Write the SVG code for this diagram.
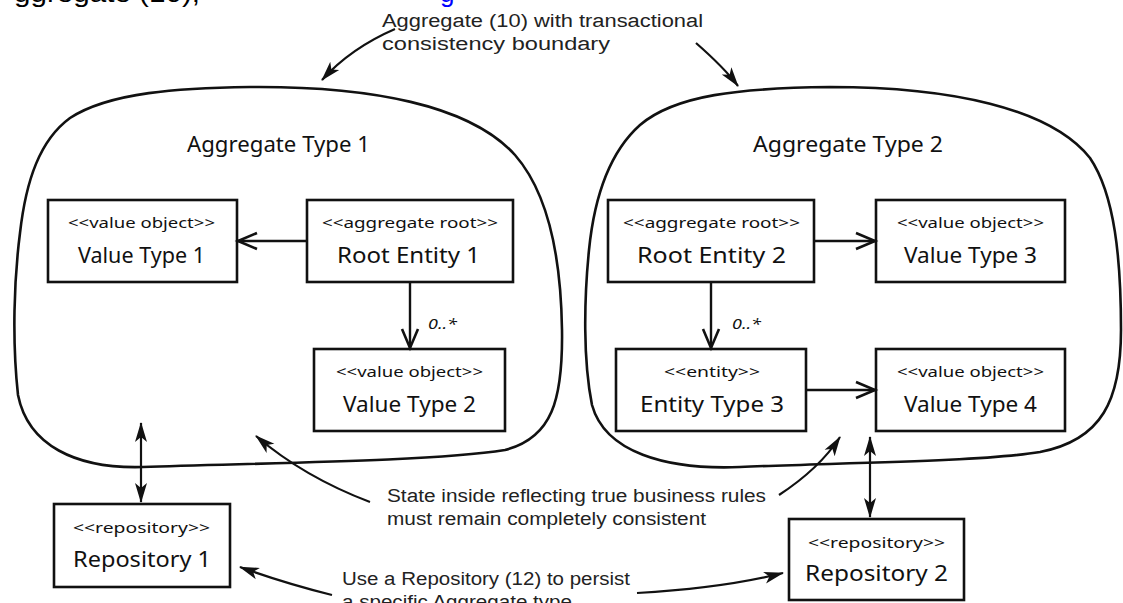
<svg xmlns="http://www.w3.org/2000/svg" width="1123" height="603" viewBox="0 0 1123 603">
<style>
.blob{fill:none;stroke:#111;stroke-width:2.6}
.box{fill:#fff;stroke:#111;stroke-width:2.6}
.hand{font-family:"Noto Sans","DejaVu Sans",sans-serif;fill:#111}
.st{font-size:14px}
.nm{font-size:21px}
.ttl{font-size:21px}
.ann{font-family:"Liberation Sans",Arial,sans-serif;font-size:18px;fill:#222}
.conn{fill:none;stroke:#111;stroke-width:2.4}
.pt{fill:none;stroke:#111;stroke-width:2.2}
</style>
<defs>
<marker id="open" markerUnits="userSpaceOnUse" markerWidth="26" markerHeight="22" refX="22" refY="11" orient="auto">
<path d="M3,3 L22,11 L3,19" fill="none" stroke="#111" stroke-width="2.6"/>
</marker>
<marker id="solid" markerUnits="userSpaceOnUse" markerWidth="22" markerHeight="14" refX="19" refY="7" orient="auto-start-reverse">
<path d="M0,1 L20,7 L0,13 L5,7 Z" fill="#111"/>
</marker>
</defs>
<rect width="1123" height="603" fill="#fff"/>

<text x="14" y="2" font-family="Liberation Sans,Arial,sans-serif" font-size="26" fill="#000" textLength="186" lengthAdjust="spacingAndGlyphs">ggregate (10),</text>
<text x="440" y="2" font-family="Liberation Sans,Arial,sans-serif" font-size="26" fill="#00f">g</text>

<g id="aggregate1">
<path class="blob" d="M250,87 C370,86 470,105 515,155 C550,195 561,260 562,330 C563,400 552,438 505,450 C430,462 250,463 143,467 C75,469 28,445 18,395 C12,340 14,280 20,233 C26,180 40,140 70,118 C110,92 180,88 250,87 Z"/>
<text class="hand ttl" x="187" y="152" textLength="183" lengthAdjust="spacingAndGlyphs">Aggregate Type 1</text>
</g>
<g id="aggregate2">
<path class="blob" d="M830,87 C950,87 1050,108 1090,158 C1115,195 1121,260 1121,330 C1121,400 1102,440 1040,452 C980,462 830,463 740,467 C665,470 605,452 592,405 C583,360 584,300 589,250 C595,190 612,150 640,125 C675,95 740,88 830,87 Z"/>
<text class="hand ttl" x="753" y="152" textLength="190" lengthAdjust="spacingAndGlyphs">Aggregate Type 2</text>
</g>

<g id="vt1"><rect class="box" x="48" y="200" width="189" height="82"/>
<text class="hand st" x="68" y="228" textLength="147" lengthAdjust="spacingAndGlyphs">&lt;&lt;value object&gt;&gt;</text>
<text class="hand nm" x="78" y="263" textLength="127" lengthAdjust="spacingAndGlyphs">Value Type 1</text></g>

<g id="re1"><rect class="box" x="307" y="200" width="206" height="82"/>
<text class="hand st" x="322" y="228" textLength="176" lengthAdjust="spacingAndGlyphs">&lt;&lt;aggregate root&gt;&gt;</text>
<text class="hand nm" x="337" y="263" textLength="143" lengthAdjust="spacingAndGlyphs">Root Entity 1</text></g>

<g id="vt2"><rect class="box" x="314" y="349" width="191" height="82"/>
<text class="hand st" x="336" y="377" textLength="147" lengthAdjust="spacingAndGlyphs">&lt;&lt;value object&gt;&gt;</text>
<text class="hand nm" x="343" y="412" textLength="133" lengthAdjust="spacingAndGlyphs">Value Type 2</text></g>

<g id="re2"><rect class="box" x="608" y="200" width="206" height="82"/>
<text class="hand st" x="623" y="228" textLength="177" lengthAdjust="spacingAndGlyphs">&lt;&lt;aggregate root&gt;&gt;</text>
<text class="hand nm" x="637" y="263" textLength="149" lengthAdjust="spacingAndGlyphs">Root Entity 2</text></g>

<g id="vt3"><rect class="box" x="876" y="200" width="189" height="82"/>
<text class="hand st" x="897" y="228" textLength="147" lengthAdjust="spacingAndGlyphs">&lt;&lt;value object&gt;&gt;</text>
<text class="hand nm" x="904" y="263" textLength="133" lengthAdjust="spacingAndGlyphs">Value Type 3</text></g>

<g id="et3"><rect class="box" x="616" y="349" width="190" height="82"/>
<text class="hand st" x="664" y="377" textLength="96" lengthAdjust="spacingAndGlyphs">&lt;&lt;entity&gt;&gt;</text>
<text class="hand nm" x="640" y="412" textLength="144" lengthAdjust="spacingAndGlyphs">Entity Type 3</text></g>

<g id="vt4"><rect class="box" x="876" y="349" width="189" height="82"/>
<text class="hand st" x="897" y="377" textLength="147" lengthAdjust="spacingAndGlyphs">&lt;&lt;value object&gt;&gt;</text>
<text class="hand nm" x="904" y="412" textLength="133" lengthAdjust="spacingAndGlyphs">Value Type 4</text></g>

<g id="repo1"><rect class="box" x="54" y="504" width="176" height="83"/>
<text class="hand st" x="73" y="533" textLength="137" lengthAdjust="spacingAndGlyphs">&lt;&lt;repository&gt;&gt;</text>
<text class="hand nm" x="73" y="567" textLength="138" lengthAdjust="spacingAndGlyphs">Repository 1</text></g>

<g id="repo2"><rect class="box" x="789" y="519" width="175" height="81"/>
<text class="hand st" x="808" y="548" textLength="137" lengthAdjust="spacingAndGlyphs">&lt;&lt;repository&gt;&gt;</text>
<text class="hand nm" x="805" y="581" textLength="143" lengthAdjust="spacingAndGlyphs">Repository 2</text></g>

<g id="connectors">
<line class="conn" x1="307" y1="241" x2="238" y2="241" marker-end="url(#open)"/>
<line class="conn" x1="410" y1="282" x2="410" y2="348" marker-end="url(#open)"/>
<text class="hand" x="428" y="329" font-size="15" font-style="italic" textLength="29" lengthAdjust="spacingAndGlyphs">0..*</text>
<line class="conn" x1="814" y1="241" x2="875" y2="241" marker-end="url(#open)"/>
<line class="conn" x1="711" y1="282" x2="711" y2="348" marker-end="url(#open)"/>
<text class="hand" x="732" y="329" font-size="15" font-style="italic" textLength="29" lengthAdjust="spacingAndGlyphs">0..*</text>
<line class="conn" x1="806" y1="390" x2="875" y2="390" marker-end="url(#open)"/>

<line class="pt" x1="141" y1="423" x2="141" y2="502" marker-start="url(#solid)" marker-end="url(#solid)"/>
<line class="pt" x1="870" y1="437" x2="870" y2="517" marker-start="url(#solid)" marker-end="url(#solid)"/>

<path class="pt" d="M395,29 C365,42 340,60 322,80" marker-end="url(#solid)"/>
<path class="pt" d="M696,43 C712,57 726,70 738,86" marker-end="url(#solid)"/>
<path class="pt" d="M370,502 C325,485 290,465 256,436" marker-end="url(#solid)"/>
<path class="pt" d="M779,495 C805,478 825,460 840,437" marker-end="url(#solid)"/>
<path class="pt" d="M332,595 C300,587 270,578 240,567" marker-end="url(#solid)"/>
<path class="pt" d="M637,593 C690,590 740,584 783,573" marker-end="url(#solid)"/>
</g>

<g id="annotations">
<text class="ann" x="382" y="27" textLength="321" lengthAdjust="spacingAndGlyphs">Aggregate (10) with transactional</text>
<text class="ann" x="382" y="50" textLength="228" lengthAdjust="spacingAndGlyphs">consistency boundary</text>
<text class="ann" x="387" y="502" textLength="379" lengthAdjust="spacingAndGlyphs">State inside reflecting true business rules</text>
<text class="ann" x="387" y="525" textLength="319" lengthAdjust="spacingAndGlyphs">must remain completely consistent</text>
<text class="ann" x="342" y="585" textLength="288" lengthAdjust="spacingAndGlyphs">Use a Repository (12) to persist</text>
<text class="ann" x="342" y="608" textLength="230" lengthAdjust="spacingAndGlyphs">a specific Aggregate type</text>
</g>
</svg>
